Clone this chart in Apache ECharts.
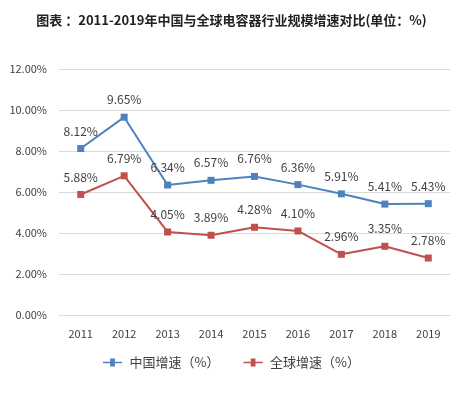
<!DOCTYPE html>
<html><head><meta charset="utf-8">
<script src="https://cdn.jsdelivr.net/npm/echarts@6/dist/echarts.min.js"></script>
<style>html,body{margin:0;padding:0;background:#fff}#c{width:463px;height:400px}</style>
</head><body><div id="c"></div>
<script>
var categories = ['2011','2012','2013','2014','2015','2016','2017','2018','2019'];
var chinaGrowth = [8.12, 9.65, 6.34, 6.57, 6.76, 6.36, 5.91, 5.41, 5.43];
var globalGrowth = [5.88, 6.79, 4.05, 3.89, 4.28, 4.10, 2.96, 3.35, 2.78];
var seriesNames = ['中国增速（%）', '全球增速（%）'];
var titleText = '图表 ：2011-2019年中国与全球电容器行业规模增速对比(单位：%)';

var chart = echarts.init(document.getElementById('c'));
var font = '"Liberation Sans Narrow","Noto Sans CJK SC",sans-serif';
function lbl(){return {show:true,position:'top',distance:8,color:'#404040',fontSize:12,fontFamily:'"Noto Sans CJK SC",sans-serif',formatter:function(p){return p.value.toFixed(2)+'%';}};}
var icon = 'path://M0,4L9,4L9,0L15,0L15,4L24,4L24,6L15,6L15,10L9,10L9,6L0,6Z';
chart.setOption({
  animation:false,
  title:{text:titleText,left:'center',top:9,textStyle:{fontSize:13,fontWeight:'bold',color:'#222',fontFamily:font}},
  grid:{left:59,right:13,top:69,bottom:85,containLabel:false},
  legend:{bottom:26,left:'center',itemWidth:24,itemHeight:8,itemGap:24,
    textStyle:{fontSize:13,color:'#404040',fontFamily:'"Noto Sans CJK SC",sans-serif'},
    data:[{name:seriesNames[0],icon:icon},{name:seriesNames[1],icon:icon}]},
  xAxis:{type:'category',data:categories,boundaryGap:true,
    axisLine:{show:true,lineStyle:{color:'#d9d9d9'}},axisTick:{show:false},
    axisLabel:{color:'#404040',fontSize:11,margin:13,fontFamily:'"Noto Sans CJK SC",sans-serif'}},
  yAxis:{type:'value',min:0,max:12,interval:2,
    axisLine:{show:false},axisTick:{show:false},
    splitLine:{lineStyle:{color:'#d9d9d9'}},
    axisLabel:{color:'#404040',fontSize:11,margin:12,fontFamily:'"Noto Sans CJK SC",sans-serif',formatter:function(v){return v.toFixed(2)+'%';}}},
  series:[
    {name:seriesNames[0],type:'line',data:chinaGrowth,symbol:'rect',symbolSize:7,
     lineStyle:{color:'#4F81BD',width:2},itemStyle:{color:'#4F81BD'},label:lbl()},
    {name:seriesNames[1],type:'line',data:globalGrowth,symbol:'rect',symbolSize:7,
     lineStyle:{color:'#C0504D',width:2},itemStyle:{color:'#C0504D'},label:lbl()}
  ]
});
</script></body></html>
